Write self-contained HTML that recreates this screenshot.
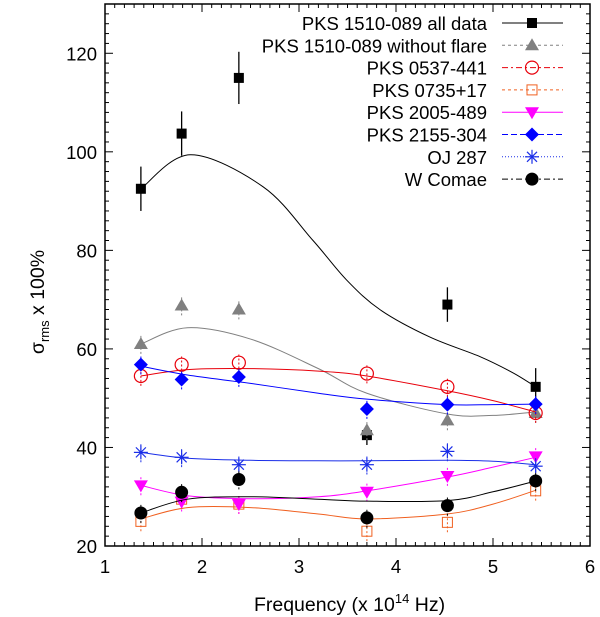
<!DOCTYPE html>
<html><head><meta charset="utf-8"><style>
body{margin:0;background:#fff;}
svg{display:block;font-family:"Liberation Sans",sans-serif;}
</style></head><body>
<svg id="chart" width="600" height="617" viewBox="0 0 600 617" xmlns="http://www.w3.org/2000/svg"></svg>
<script>
const freqs=[1.37,1.79,2.38,3.7,4.53,5.44];
const fitX=[1.37,1.85,2.5,3.2,3.7,4.53,5.0,5.44];
const allFitX=[1.37,1.88,2.63,3.14,3.49,3.84,4.35,4.87,5.21,5.44];
const allData=[92.5,103.7,115,42.5,69,52.3];
const allErr=[4.5,4.5,5.3,2,3.5,3.8];
const allFit=[92.5,99.4,92.9,82.1,74,67.9,62.4,58.4,55.1,52.3];
const noFlare=[61,68.8,68,43.5,45.5,47];
const noFlareFit=[61,64.3,62,56,51,46.8,46.5,47.2];
const p0537=[54.5,56.8,57.2,55,52.3,47];
const p0537Fit=[54.5,55.8,56,55.5,54.5,51.5,49.5,47.2];
const p0735=[25,29.5,28.5,23,24.8,31.2];
const p0735Fit=[25.5,27.8,27.8,26.5,25.5,26.5,28.5,31.3];
const p2005=[32.3,29,28.5,31,34.2,38.2];
const p2005Fit=[32.3,30.2,29.6,30,31.2,34,36,38];
const p2155=[56.8,53.8,54.3,47.8,48.7,48.8];
const p2155Fit=[56.5,54.7,53,51,49.8,48.7,48.7,48.8];
const oj287=[39,38,36.5,36.5,39.2,36.2];
const oj287Fit=[39,37.8,37.4,37.3,37.3,37.4,37.2,36.5];
const wcomae=[26.7,30.9,33.5,25.7,28.2,33.2];
const wcomaeFit=[26.7,29.5,30,29.5,29.1,29.2,31,33.2];
const xTicks=[1,2,3,4,5,6];
const yTicks=[20,40,60,80,100,120];
const legendLabels=["PKS 1510-089 all data","PKS 1510-089 without flare","PKS 0537-441","PKS 0735+17","PKS 2005-489","PKS 2155-304","OJ 287","W Comae"];

const NS="http://www.w3.org/2000/svg";
const svg=document.getElementById('chart');
const L=105,R=590,T=4,B=546;
const xs=v=>L+(v-1)/5*(R-L);
const ys=v=>B-(v-20)/110*(B-T);
function el(tag,attrs,parent){const e=document.createElementNS(NS,tag);for(const k in attrs)e.setAttribute(k,attrs[k]);(parent||svg).appendChild(e);return e;}

const frame=el('rect',{x:L,y:T,width:R-L,height:B-T,fill:'none',stroke:'#000','stroke-width':1.5});


for(let v=1;v<=6.001;v+=0.1){const big=Math.abs(v-Math.round(v))<1e-6;const len=big?8:4;
 el('line',{x1:xs(v),x2:xs(v),y1:B,y2:B-len,stroke:'#000'});el('line',{x1:xs(v),x2:xs(v),y1:T,y2:T+len,stroke:'#000'});}
for(let v=20;v<=130;v+=2){const big=v%20==0;const len=big?8:4;
 el('line',{x1:L,x2:L+len,y1:ys(v),y2:ys(v),stroke:'#000'});el('line',{x1:R,x2:R-len,y1:ys(v),y2:ys(v),stroke:'#000'});}
xTicks.forEach(v=>{const t=el('text',{x:xs(v),y:B+27,'text-anchor':'middle','font-size':18.5});t.textContent=v;
 
 });
yTicks.forEach(v=>{const t=el('text',{x:L-8,y:ys(v)+7,'text-anchor':'end','font-size':18.5});t.textContent=v;
 
 });
const xt=el('text',{x:(L+R)/2+2,y:611,'text-anchor':'middle','font-size':19.5});
xt.innerHTML='Frequency (x 10<tspan dy="-8" font-size="13">14</tspan><tspan dy="8"> Hz)</tspan>';


const yt=el('text',{transform:'translate(44,302) rotate(-90)','text-anchor':'middle','font-size':19.5});
yt.innerHTML='σ<tspan dy="5" font-size="13">rms</tspan><tspan dy="-5"> x 100%</tspan>';



function smooth(xv,yv){const p=xv.map((x,i)=>[xs(x),ys(yv[i])]);let d=`M${p[0][0]},${p[0][1]}`;
 for(let i=0;i<p.length-1;i++){const p0=p[Math.max(i-1,0)],p1=p[i],p2=p[i+1],p3=p[Math.min(i+2,p.length-1)];
  d+=` C${p1[0]+(p2[0]-p0[0])/6},${p1[1]+(p2[1]-p0[1])/6} ${p2[0]-(p3[0]-p1[0])/6},${p2[1]-(p3[1]-p1[1])/6} ${p2[0]},${p2[1]}`;}return d;}
function marker(type,cx,cy,color,g){
 if(type=='sq')el('rect',{x:cx-5,y:cy-5,width:10,height:10,fill:color},g);
 else if(type=='tri')el('polygon',{points:`${cx},${cy-7} ${cx-7},${cy+5} ${cx+7},${cy+5}`,fill:color},g);
 else if(type=='circ')el('circle',{cx,cy,r:6.5,fill:'none',stroke:color,'stroke-width':1.2},g);
 else if(type=='osq')el('rect',{x:cx-5,y:cy-5,width:10,height:10,fill:'none',stroke:color},g);
 else if(type=='itri')el('polygon',{points:`${cx},${cy+7} ${cx-7},${cy-5} ${cx+7},${cy-5}`,fill:color},g);
 else if(type=='dia')el('polygon',{points:`${cx},${cy-7} ${cx+7},${cy} ${cx},${cy+7} ${cx-7},${cy}`,fill:color},g);
 else if(type=='star'){[[-7,0,7,0],[0,-7,0,7],[-5,-5,5,5],[-5,5,5,-5]].forEach(a=>el('line',{x1:cx+a[0],y1:cy+a[1],x2:cx+a[2],y2:cy+a[3],stroke:color,'stroke-width':1.2},g));}
 else if(type=='dot')el('circle',{cx,cy,r:6.5,fill:color},g);
}
const series=[
 {name:'pks1510-all',vals:allData,fx:allFitX,fit:allFit,err:allErr,m:'sq',c:'#000',dash:'',ec:'#000',edash:''},
 {name:'pks1510-no-flare',vals:noFlare,fx:fitX,fit:noFlareFit,m:'tri',c:'#808080',dash:'3,3',ec:'#808080',edash:'2,2'},
 {name:'pks0537',vals:p0537,fx:fitX,fit:p0537Fit,m:'circ',c:'#e8000b',dash:'6,3,2,3',ec:'#e8000b',edash:'2,2'},
 {name:'pks0735',vals:p0735,fx:fitX,fit:p0735Fit,m:'osq',c:'#f06020',dash:'3,3',ec:'#f06020',edash:'2,2'},
 {name:'pks2005',vals:p2005,fx:fitX,fit:p2005Fit,m:'itri',c:'#ff00ff',dash:'',ec:'#ff00ff',edash:'2,2'},
 {name:'pks2155',vals:p2155,fx:fitX,fit:p2155Fit,m:'dia',c:'#0000ff',dash:'6,3',ec:'#0000ff',edash:'2,2'},
 {name:'oj287',vals:oj287,fx:fitX,fit:oj287Fit,m:'star',c:'#1a2ee8',dash:'1,2',ec:'#1a2ee8',edash:'2,2'},
 {name:'w-comae',vals:wcomae,fx:fitX,fit:wcomaeFit,m:'dot',c:'#000',dash:'6,3,2,3',ec:'#000',edash:'2,2'}
];
series.forEach((s,si)=>{
 const g=el('g',{});
 
 
 const fit=el('path',{d:smooth(s.fx,s.fit),fill:'none',stroke:s.c,'stroke-width':1},g);
 
 
 s.vals.forEach((v,i)=>{const e=s.err?s.err[i]:2;
  el('line',{x1:xs(freqs[i]),x2:xs(freqs[i]),y1:ys(v-e),y2:ys(v+e),stroke:s.ec,'stroke-dasharray':s.edash,'stroke-width':s.err?1.3:1},g);
  marker(s.m,xs(freqs[i]),ys(v),s.c,g);});
 const ly=23+si*22.3;
 const lt=el('text',{x:487,y:ly+7,'text-anchor':'end','font-size':18.5});lt.textContent=legendLabels[si];
 
 
 el('line',{x1:502,x2:563,y1:ly,y2:ly,stroke:s.c,'stroke-dasharray':s.dash});
 marker(s.m,532,ly,s.c);
});
</script>
</body></html>
